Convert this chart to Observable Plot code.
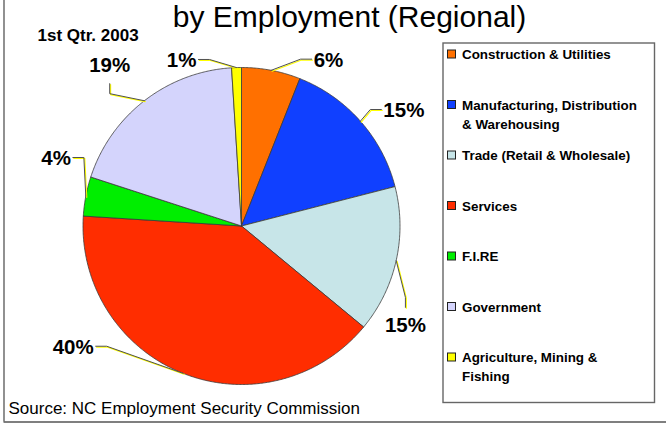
<!DOCTYPE html>
<html><head><meta charset="utf-8">
<script src="https://cdn.jsdelivr.net/npm/d3@7"></script>
<script src="https://cdn.jsdelivr.net/npm/@observablehq/plot@0.6"></script>
<style>
html,body{margin:0;padding:0;background:#fff;}
#chart{width:666px;height:425px;overflow:hidden;}
</style></head><body><div id="chart"></div>
<script>
// ---- data ----
const categories = ["Construction & Utilities","Manufacturing, Distribution & Warehousing","Trade (Retail & Wholesale)","Services","F.I.RE","Government","Agriculture, Mining & Fishing"];
const legendLabels = ["Construction & Utilities","Manufacturing, Distribution\n& Warehousing","Trade (Retail & Wholesale)","Services","F.I.RE","Government","Agriculture, Mining &\nFishing"];
const shares = [6,15,15,40,4,19,1];
const valueLabels = ["6%","15%","15%","40%","4%","19%","1%"];
const colors = ["#ff7000","#1040ff","#c7e5e8","#ff2d00","#00ee00","#d4d4fc","#ffff00"];
const titleText = "by Employment (Regional)";
const subtitleText = "1st Qtr. 2003";
const sourceText = "Source: NC Employment Security Commission";

// ---- layout ----
const W = 666, H = 425;
const FONT = "'Liberation Sans', Arial, Helvetica, sans-serif";
const pie = {cx: 241, cy: 225.5, r: 158.5};
const labelAngle = [22.8, 50.2, 116.4, 230.5, 292.1, 317.2, 345.5];
const labelDist = [181, 182, 183, 189, 182, 194, 172];
const labelSide = ["right","right","below","left","left","above","left"];
const legendBox = {x1: 443, x2: 654.5, y1: 43, y2: 402.5};
const legendRow0 = 54, legendPitch = 50.5, legendFont = 13.4, legendLH = 1.4;

// ---- geometry from data ----
const arcs = d3.pie().sort(null).value(d => d)(shares);
const slicePts = [];
arcs.forEach((a, i) => {
  const n = Math.max(2, Math.ceil((a.endAngle - a.startAngle) / (Math.PI / 360)));
  slicePts.push({k: categories[i], x: pie.cx, y: pie.cy});
  for (let j = 0; j <= n; j++) {
    const t = a.startAngle + (a.endAngle - a.startAngle) * j / n;
    slicePts.push({k: categories[i], x: pie.cx + pie.r * Math.sin(t), y: pie.cy - pie.r * Math.cos(t)});
  }
  slicePts.push({k: categories[i], x: pie.cx, y: pie.cy});
});

const leaderPts = [], labelData = [];
arcs.forEach((a, i) => {
  const m = (a.startAngle + a.endAngle) / 2;
  const ex = pie.cx + pie.r * Math.sin(m), ey = pie.cy - pie.r * Math.cos(m);
  const la = labelAngle[i] * Math.PI / 180;
  const px = pie.cx + labelDist[i] * Math.sin(la), py = pie.cy - labelDist[i] * Math.cos(la);
  let kx = px, ky = py, tx = px, ty = py, anchor = "middle";
  const s = labelSide[i];
  if (s === "right") { kx = px - 11; tx = px + 2; ty = py + 1; anchor = "start"; }
  if (s === "left")  { kx = px + 11; tx = px - 2; ty = py + 1; anchor = "end"; }
  if (s === "below") { ky = py - 10; ty = py + 18; }
  if (s === "above") { ky = py + 10; ty = py - 18; }
  leaderPts.push({k: i, x: ex, y: ey}, {k: i, x: kx, y: ky}, {k: i, x: px, y: py});
  labelData.push({k: i, x: tx, y: ty, anchor, text: valueLabels[i]});
});

const legendData = categories.map((c, i) => ({
  c, label: legendLabels[i], yc: legendRow0 + i * legendPitch
}));

const labelMark = (anchor) => Plot.text(labelData.filter(d => d.anchor === anchor), {
  x: "x", y: "y", text: "text", textAnchor: anchor, lineAnchor: "middle",
  fontSize: 20.5, fontWeight: "bold", fill: "#000", fontFamily: FONT
});

const chart = Plot.plot({
  width: W, height: H,
  margin: 0, marginTop: 0, marginRight: 0, marginBottom: 0, marginLeft: 0,
  x: {domain: [0, W], axis: null},
  y: {domain: [0, H], reverse: true, axis: null},
  color: {domain: categories, range: colors},
  style: {fontFamily: FONT, background: "#fff", overflow: "visible"},
  marks: [
    // outer chart border (left & bottom visible in crop)
    Plot.ruleX([3.5], {y1: 0, y2: 421.5, stroke: "#555", strokeWidth: 1.3}),
    Plot.ruleY([421.5], {x1: 3.5, x2: W, stroke: "#555", strokeWidth: 1.3}),
    // slices
    Plot.line(slicePts, {x: "x", y: "y", z: "k", fill: "k", stroke: "#3a3a3a", strokeWidth: 0.8, strokeLinejoin: "round"}),
    // leader lines: yellow shadow then dark line
    Plot.line(leaderPts, {x: "x", y: "y", z: "k", stroke: "#ffff00", strokeWidth: 1.2, dx: 0.9, dy: 0.9}),
    Plot.line(leaderPts, {x: "x", y: "y", z: "k", stroke: "#505050", strokeWidth: 1}),
    labelMark("start"), labelMark("end"), labelMark("middle"),
    // title & subtitle
    Plot.text([titleText], {x: 349, y: 26, text: d => d, fontSize: 30, lineAnchor: "bottom", fill: "#000", fontFamily: FONT}),
    Plot.text([subtitleText], {x: 37, y: 40, text: d => d, fontSize: 17, fontWeight: "bold", textAnchor: "start", lineAnchor: "bottom", fill: "#000", fontFamily: FONT}),
    // source
    Plot.text([sourceText], {x: 8, y: 413, text: d => d, fontSize: 17, textAnchor: "start", lineAnchor: "bottom", fill: "#000", fontFamily: FONT}),
    // legend
    Plot.rect([legendBox], {x1: "x1", x2: "x2", y1: "y1", y2: "y2", fill: "#fff", stroke: "#666", strokeWidth: 1.4}),
    Plot.rect(legendData, {x1: () => 447.5, x2: () => 455.5, y1: d => d.yc - 4, y2: d => d.yc + 4, fill: "c", stroke: "#222", strokeWidth: 1}),
    Plot.text(legendData, {x: () => 461.5, y: d => d.yc + 0.36 * legendFont - 0.71 * legendLH * legendFont, text: "label", textAnchor: "start", lineAnchor: "top", lineHeight: legendLH, fontSize: legendFont, fontWeight: "bold", fill: "#000", fontFamily: FONT})
  ]
});
document.getElementById("chart").appendChild(chart);
</script>
</body></html>
